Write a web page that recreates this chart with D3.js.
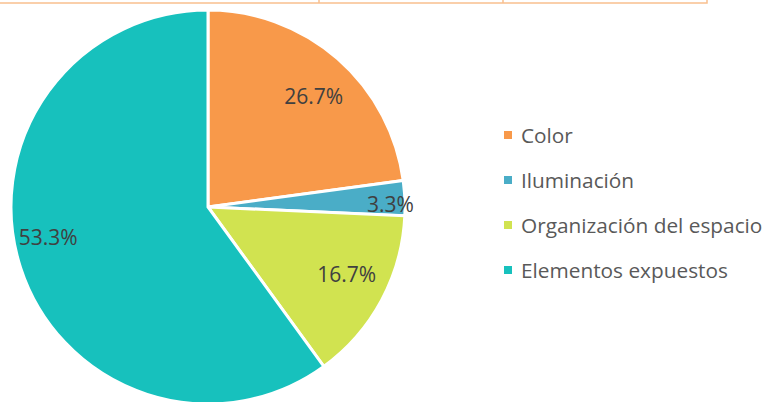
<!DOCTYPE html>
<html><head><meta charset="utf-8">
<script src="https://cdn.jsdelivr.net/npm/d3@7"></script>
<style>html,body{margin:0;padding:0;background:#fff;}svg{display:block;}</style>
</head><body>
<svg id="chart" width="765" height="402"></svg>
<script>
const categories = ["Color", "Iluminación", "Organización del espacio", "Elementos expuestos"];
const values = [8, 1, 5, 21];
const labels = ["26.7%", "3.3%", "16.7%", "53.3%"];
const colors = ["#F8994A", "#4AADC7", "#D1E350", "#17C1BD"];

const svg = d3.select("#chart");
const cx = 208, cy = 207, R = 197;
const font = "'Open Sans', sans-serif";

// partial table border at top
const border = svg.append("g").attr("stroke", "#F9C08F").attr("stroke-width", 1.5).attr("fill", "none");
border.append("path").attr("d", "M0,3H707V0M319,3V0M503,3V0");

const pie = d3.pie().value(d => d).sort(null);
const arcs = pie(values);
const arc = d3.arc().innerRadius(0).outerRadius(R);
const labelArc = d3.arc().innerRadius(R * 0.8).outerRadius(R * 0.8);
// label nudges (Excel best-fit placement)
const nudge = [[2, 8], [25, 4], [0, -8], [-10, -19]];

const g = svg.append("g").attr("transform", `translate(${cx},${cy})`);
g.selectAll("path.slice").data(arcs).enter().append("path")
  .attr("class", "slice")
  .attr("d", arc)
  .attr("fill", (d, i) => colors[i])
  .attr("stroke", "#fff").attr("stroke-width", 3).attr("stroke-linejoin", "miter");

g.selectAll("text.lbl").data(arcs).enter().append("text")
  .attr("class", "lbl")
  .attr("x", (d, i) => labelArc.centroid(d)[0] + nudge[i][0])
  .attr("y", (d, i) => labelArc.centroid(d)[1] + nudge[i][1])
  .attr("text-anchor", "middle").attr("dominant-baseline", "central")
  .attr("font-family", font).attr("font-size", 21).attr("fill", "#404040")
  .text((d, i) => labels[i]);

const legendY = d3.scalePoint().domain(categories).range([135, 270]);
const lg = svg.append("g");
const items = lg.selectAll("g").data(categories).enter().append("g")
  .attr("transform", d => `translate(504,${legendY(d)})`);
items.append("rect").attr("x", 0).attr("y", -4).attr("width", 8).attr("height", 8)
  .attr("fill", (d, i) => colors[i]);
items.append("text").attr("x", 17).attr("y", 0).attr("dominant-baseline", "central")
  .attr("font-family", font).attr("font-size", 20.8).attr("fill", "#595959")
  .text(d => d);
</script>
</body></html>
